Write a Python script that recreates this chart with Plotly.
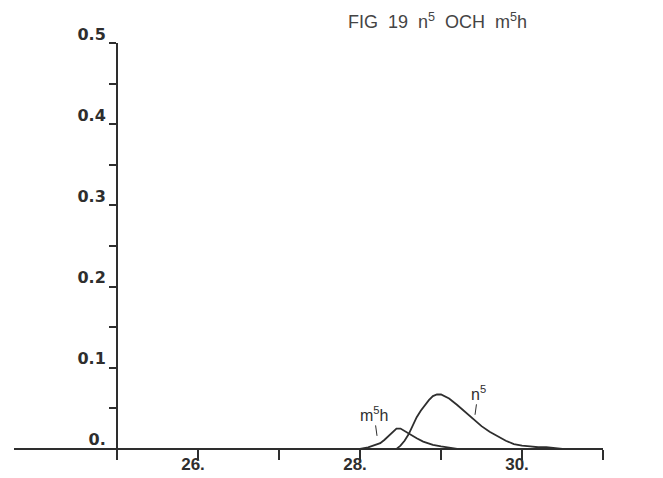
import plotly.graph_objects as go

# ---- data ----
m5h_t = [25.0, 28.0, 28.1, 28.2, 28.25, 28.3, 28.35, 28.4, 28.45, 28.5, 28.55, 28.62, 28.7, 28.78, 28.9, 29.0, 29.1, 29.2, 31.0]
m5h_v = [0.0, 0.0, 0.002, 0.005, 0.007, 0.011, 0.016, 0.021, 0.025, 0.025, 0.022, 0.017, 0.013, 0.009, 0.005, 0.003, 0.0015, 0.0, 0.0]

n5_t = [25.0, 28.45, 28.5, 28.55, 28.6, 28.65, 28.7, 28.75, 28.8, 28.85, 28.9, 28.95, 29.0, 29.05, 29.1, 29.2,
        29.3, 29.4, 29.5, 29.6, 29.7, 29.8, 29.9, 30.0, 30.1, 30.2, 30.3, 30.4, 30.5, 31.0]
n5_v = [0.0, 0.0, 0.004, 0.010, 0.018, 0.029, 0.039, 0.047, 0.054, 0.060, 0.065, 0.067, 0.067, 0.065, 0.062, 0.054,
        0.045, 0.036, 0.028, 0.021, 0.015, 0.010, 0.006, 0.004, 0.003, 0.002, 0.002, 0.001, 0.0, 0.0]

x_tickvals = [25, 26, 27, 28, 29, 30, 31]
x_ticktext = ["", "26.", "", "28.", "", "30.", ""]
y_tickvals = [0.0, 0.05, 0.1, 0.15, 0.2, 0.25, 0.3, 0.35, 0.4, 0.45, 0.5]
y_ticktext = ["0.", "", "0.1", "", "0.2", "", "0.3", "", "0.4", "", "0.5"]

title_text = "FIG&nbsp;&nbsp;19&nbsp;&nbsp;n<sup>5</sup>&nbsp;&nbsp;OCH&nbsp;&nbsp;m<sup>5</sup>h"
x_unit = "ms"

# ---- layout geometry ----
X_MIN, X_MAX = 23.728, 31.0
Y_MIN, Y_MAX = -0.01, 0.5
INK = "#2e2e2e"

fig = go.Figure()
fig.add_trace(go.Scatter(x=m5h_t, y=m5h_v, mode="lines", line=dict(color=INK, width=1.8), name="m5h"))
fig.add_trace(go.Scatter(x=n5_t, y=n5_v, mode="lines", line=dict(color=INK, width=1.8), name="n5"))

fig.update_layout(
    width=663, height=478,
    margin=dict(l=14, r=60, t=43, b=21, autoexpand=False),
    paper_bgcolor="white", plot_bgcolor="white",
    showlegend=False,
    title=dict(text=title_text, xref="container", yref="container", x=348/663, xanchor="left",
               y=1 - 22/478, yanchor="middle", automargin=False,
               font=dict(family="Liberation Sans", size=18, color="#444444")),
    xaxis=dict(range=[X_MIN, X_MAX], anchor="free", position=(0 - Y_MIN) / (Y_MAX - Y_MIN),
               automargin=False,
               showline=True, linecolor=INK, linewidth=2, showgrid=False, zeroline=False,
               tickmode="array", tickvals=x_tickvals, ticktext=x_ticktext,
               ticks="outside", ticklen=10, tickwidth=2, tickcolor=INK,
               ticklabelshift=-5, ticklabelstandoff=-10,
               tickfont=dict(family="Liberation Sans", size=17, color=INK, weight="bold")),
    yaxis=dict(range=[Y_MIN, Y_MAX], anchor="free", position=(25 - X_MIN) / (X_MAX - X_MIN),
               automargin=False,
               showline=True, linecolor=INK, linewidth=2, showgrid=False, zeroline=False,
               tickmode="array", tickvals=y_tickvals, ticktext=y_ticktext,
               ticks="outside", ticklen=7, tickwidth=2, tickcolor=INK,
               ticklabelshift=-9, ticklabelstandoff=0,
               tickfont=dict(family="DejaVu Sans", size=16, color=INK, weight="bold")),
)

fig.add_annotation(x=31.25, y=0, xref="x", yref="y", text=x_unit, showarrow=False,
                   xanchor="left", yanchor="middle",
                   font=dict(family="Liberation Sans", size=15, color="#444444"))

fig.add_annotation(x=28.21, y=0.016, xref="x", yref="y", text="m<sup>5</sup>h",
                   showarrow=True, arrowhead=0, arrowwidth=1, arrowcolor=INK, ax=-3, ay=-22,
                   font=dict(family="Liberation Sans", size=16, color=INK))
fig.add_annotation(x=29.42, y=0.042, xref="x", yref="y", text="n<sup>5</sup>",
                   showarrow=True, arrowhead=0, arrowwidth=1, arrowcolor=INK, ax=3, ay=-22,
                   font=dict(family="Liberation Sans", size=16, color=INK))

fig.write_html("out.html")
